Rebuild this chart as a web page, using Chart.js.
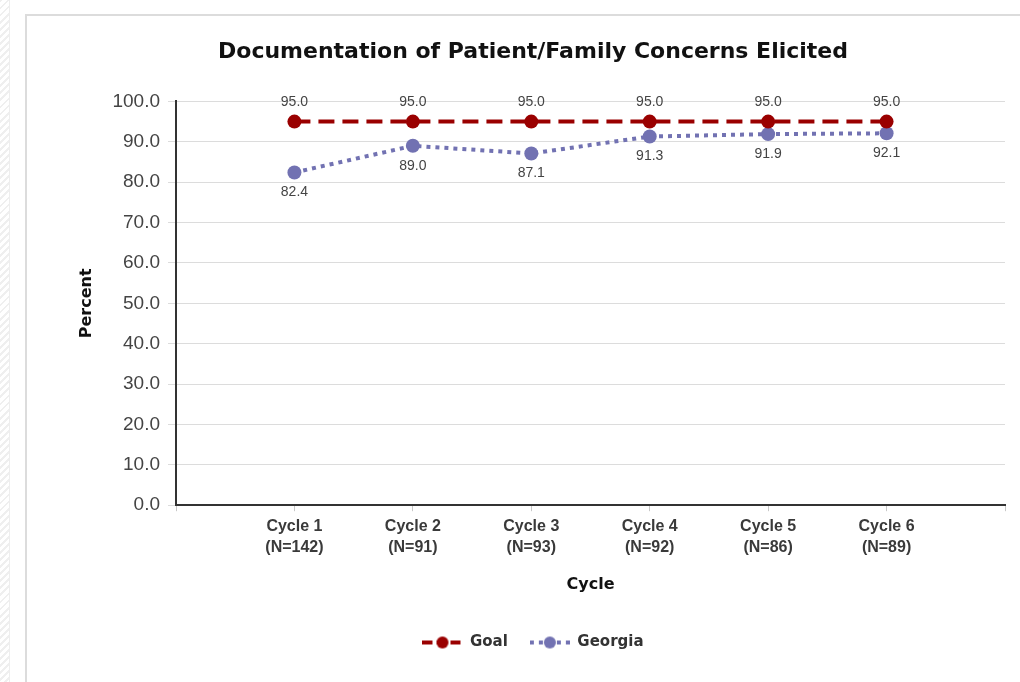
<!DOCTYPE html>
<html lang="en">
<head>
    <meta charset="UTF-8">
    <script src="https://cdn.jsdelivr.net/npm/chart.js"></script>
    <title>Documentation of Patient/Family Concerns Elicited</title>
    <style>
        html, body { margin: 0; padding: 0; background: #fff; overflow: hidden; width: 1020px; height: 682px; }
        .strip {
            position: absolute; left: 0; top: 0; width: 9px; height: 682px;
            background: repeating-linear-gradient(135deg, #efefef 0 2px, #fff 2px 5px);
            border-right: 1px solid #eee;
        }
        .frame {
            position: absolute; left: 25px; top: 14px; width: 1100px; height: 800px;
            border-left: 2px solid #dcdcdc; border-top: 2px solid #dcdcdc;
        }
        #myChart { position: absolute; left: 27px; top: 16px; }
    </style>
</head>
<body>

<div class="strip"></div>
<div class="frame"></div>
<canvas id="myChart" width="1013" height="666"></canvas>

<script>

    const cycles = ['Cycle 1', 'Cycle 2', 'Cycle 3', 'Cycle 4', 'Cycle 5', 'Cycle 6'];
    const counts = ['(N=142)', '(N=91)', '(N=93)', '(N=92)', '(N=86)', '(N=89)'];
    const goal = [95.0, 95.0, 95.0, 95.0, 95.0, 95.0];
    const georgia = [82.4, 89.0, 87.1, 91.3, 91.9, 92.1];

    const goalColor = '#9a0000';
    const georgiaColor = '#7272b2';

    // little line + dot pictures for the legend
    function legendMark(color, dash) {
        const c = document.createElement('canvas');
        c.width = 40;
        c.height = 16;
        const g = c.getContext('2d');
        g.strokeStyle = color;
        g.lineWidth = 4;
        g.setLineDash(dash);
        g.beginPath();
        g.moveTo(0, 8);
        g.lineTo(40, 8);
        g.stroke();
        g.fillStyle = color;
        g.beginPath();
        g.arc(20, 8, 6, 0, Math.PI * 2);
        g.fill();
        return c;
    }

    const valueLabels = {
        id: 'valueLabels',
        afterDatasetsDraw: (chart) => {
            const {ctx} = chart;
            ctx.save();
            ctx.font = '14px "Liberation Sans", Arial, sans-serif';
            ctx.fillStyle = '#444';
            ctx.textAlign = 'center';
            ctx.textBaseline = 'middle';
            chart.data.datasets.forEach((ds, i) => {
                const meta = chart.getDatasetMeta(i);
                meta.data.forEach((pt, j) => {
                    const dy = i === 0 ? -19 : 20;
                    ctx.fillText(ds.data[j].y.toFixed(1), pt.x, pt.y + dy);
                });
            });
            ctx.restore();
        }
    };

    const ctx = document.getElementById('myChart').getContext('2d');

    const chart = new Chart(ctx, {
        type: 'line',
        data: {
            datasets: [{
                label: 'Goal',
                data: goal.map((v, i) => ({x: i + 1, y: v})),
                borderColor: goalColor,
                backgroundColor: goalColor,
                borderWidth: 4,
                borderDash: [16, 8],
                pointRadius: 7,
                pointBorderWidth: 0,
                pointStyle: 'circle',
            }, {
                label: 'Georgia',
                data: georgia.map((v, i) => ({x: i + 1, y: v})),
                borderColor: georgiaColor,
                backgroundColor: georgiaColor,
                borderWidth: 4,
                borderDash: [4, 5],
                pointRadius: 7,
                pointBorderWidth: 0,
                pointStyle: 'circle',
            }]
        },
        options: {
            responsive: false,
            animation: false,
            layout: {
                padding: {left: 34, right: 35, top: 0, bottom: 22}
            },
            plugins: {
                title: {
                    display: true,
                    text: 'Documentation of Patient/Family Concerns Elicited',
                    color: '#111',
                    font: {family: '"DejaVu Sans"', size: 22, weight: 'bold'},
                    padding: {top: 23, bottom: 36}
                },
                legend: {
                    display: true,
                    position: 'bottom',
                    labels: {
                        usePointStyle: true,
                        pointStyleWidth: 40,
                        padding: 22,
                        color: '#333',
                        font: {family: '"DejaVu Sans"', size: 15, weight: 'bold'},
                        generateLabels: (c) => [
                            {text: 'Goal', pointStyle: legendMark(goalColor, [10, 4]), datasetIndex: 0, fontColor: '#333', lineWidth: 0},
                            {text: 'Georgia', pointStyle: legendMark(georgiaColor, [4, 5]), datasetIndex: 1, fontColor: '#333', lineWidth: 0},
                        ]
                    }
                },
                tooltip: {enabled: false}
            },
            scales: {
                x: {
                    type: 'linear',
                    min: 0,
                    max: 7,
                    afterBuildTicks: (scale) => {
                        scale.ticks = [0, 1, 2, 3, 4, 5, 6, 7].map(v => ({value: v}));
                    },
                    ticks: {
                        autoSkip: false,
                        maxRotation: 0,
                        padding: 5,
                        color: '#3a3a3a',
                        font: {family: '"Liberation Sans", Arial, sans-serif', size: 16, weight: 'bold', lineHeight: 1.3},
                        callback: (v) => (v >= 1 && v <= 6) ? [cycles[v - 1], counts[v - 1]] : ''
                    },
                    grid: {drawOnChartArea: false, tickLength: 6, color: '#c8c8c8'},
                    border: {color: '#333', width: 2},
                    title: {
                        display: true,
                        text: 'Cycle',
                        color: '#111',
                        font: {family: '"DejaVu Sans"', size: 16, weight: 'bold'},
                        padding: {top: 12, bottom: 19}
                    }
                },
                y: {
                    min: 0,
                    max: 100,
                    afterFit: (scale) => { scale.width = 115; },
                    ticks: {
                        stepSize: 10,
                        padding: 8,
                        color: '#444',
                        font: {family: '"Liberation Sans", Arial, sans-serif', size: 19},
                        callback: (v) => v.toFixed(1)
                    },
                    grid: {color: '#dcdcdc', tickLength: 8},
                    border: {color: '#333', width: 2},
                    title: {
                        display: true,
                        text: 'Percent',
                        color: '#111',
                        font: {family: '"DejaVu Sans"', size: 16, weight: 'bold'},
                        padding: {top: 16, bottom: 0}
                    }
                }
            }
        },
        plugins: [valueLabels],
    });

</script>

</body>
</html>
